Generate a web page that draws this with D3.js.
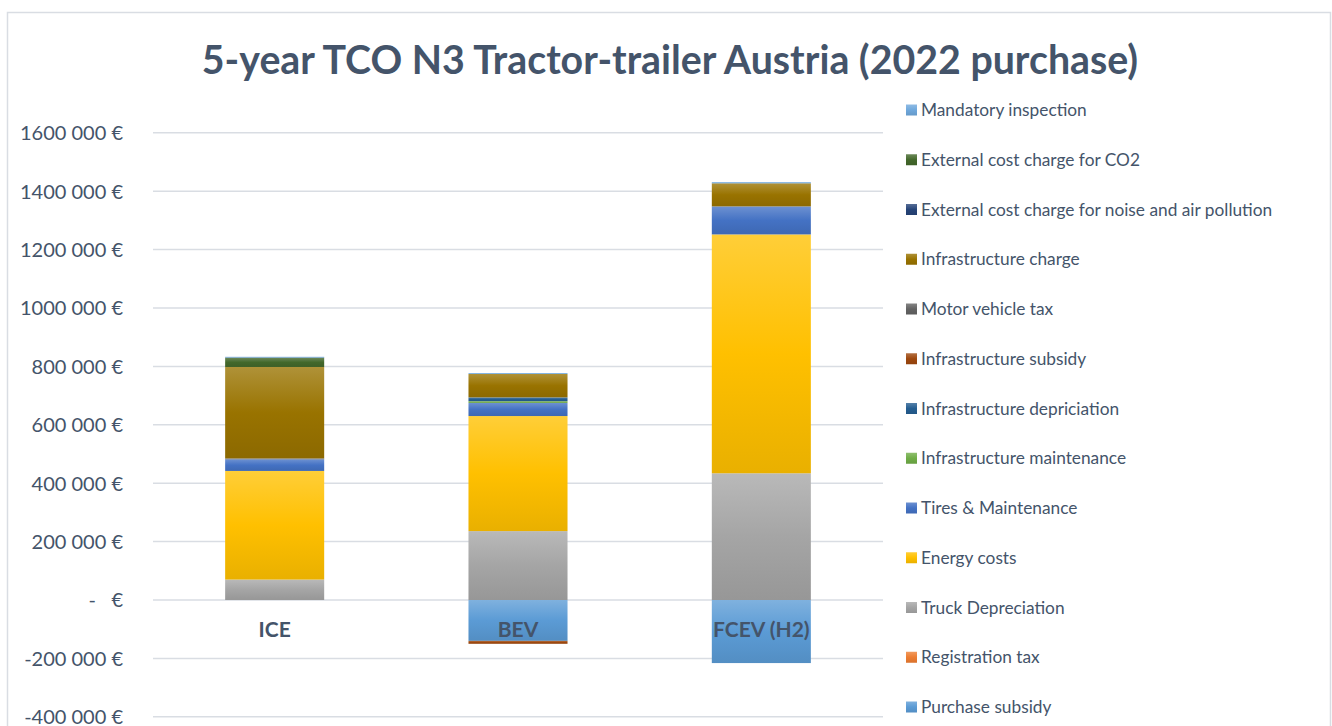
<!DOCTYPE html>
<html>
<head>
<meta charset="utf-8">
<script src="https://cdn.jsdelivr.net/npm/d3@7"></script>
<style>
  html, body { margin: 0; padding: 0; background: #ffffff; }
  svg { display: block; }
  text { font-family: Lato, "Open Sans", sans-serif; white-space: pre; }
</style>
</head>
<body>
<svg id="chart" width="1332" height="726"></svg>
<script>
// ---------------- DATA ----------------
const title = "5-year TCO N3 Tractor-trailer Austria (2022 purchase)";
const categories = ["ICE", "BEV", "FCEV (H2)"];

// stacking order from the bottom (legend shows the reverse order)
const seriesNames = [
  "Purchase subsidy",
  "Registration tax",
  "Truck Depreciation",
  "Energy costs",
  "Tires & Maintenance",
  "Infrastructure maintenance",
  "Infrastructure depriciation",
  "Infrastructure subsidy",
  "Motor vehicle tax",
  "Infrastructure charge",
  "External cost charge for noise and air pollution",
  "External cost charge for CO2",
  "Mandatory inspection"
];
const seriesColors = [
  "#5b9bd5", "#ed7d31", "#a5a5a5", "#ffc000", "#4472c4", "#70ad47",
  "#255e91", "#9e480e", "#636363", "#997300", "#264478", "#43682b", "#6fa8dc"
];

// values per category: ICE, BEV, FCEV (H2)
const purchaseSubsidy     = [0, -140000, -216000];
const registrationTax     = [0, 0, 0];
const truckDepreciation   = [70000, 236000, 434000];
const energyCosts         = [372000, 394000, 818000];
const tiresMaintenance    = [40000, 45000, 96000];
const infraMaintenance    = [0, 6000, 0];
const infraDepreciation   = [0, 13000, 0];
const infraSubsidy        = [0, -10000, 0];
const motorVehicleTax     = [3000, 0, 0];
const infraCharge         = [313000, 80000, 79000];
const extNoiseAir         = [0, 0, 0];
const extCO2              = [32000, 0, 0];
const mandatoryInspection = [3000, 3000, 4000];

const seriesValues = [
  purchaseSubsidy, registrationTax, truckDepreciation, energyCosts,
  tiresMaintenance, infraMaintenance, infraDepreciation, infraSubsidy,
  motorVehicleTax, infraCharge, extNoiseAir, extCO2, mandatoryInspection
];

const yTicks = [-400000, -200000, 0, 200000, 400000, 600000, 800000, 1000000, 1200000, 1400000, 1600000];
const yTickLabels = ["-400 000 €", "-200 000 €", "-   €", "200 000 €", "400 000 €", "600 000 €",
                     "800 000 €", "1000 000 €", "1200 000 €", "1400 000 €", "1600 000 €"];

// ---------------- CHART ----------------
const textColor = "#44546a";
const gridColor = "#d9dde3";
const svg = d3.select("#chart");

// outer chart border
svg.append("rect")
  .attr("x", 7.5).attr("y", 12.5)
  .attr("width", 1323).attr("height", 730)
  .attr("fill", "#ffffff")
  .attr("stroke", "#d9dde3").attr("stroke-width", 1.5);

// table for stacking
const table = categories.map((c, i) => {
  const row = { category: c };
  seriesNames.forEach((s, j) => { row[s] = seriesValues[j][i]; });
  return row;
});
const stack = d3.stack().keys(seriesNames).offset(d3.stackOffsetDiverging);
const stacked = stack(table);

const x = d3.scaleBand()
  .domain(categories)
  .range([153, 883])
  .paddingInner(0.593)
  .paddingOuter(0.2965);

const y = d3.scaleLinear()
  .domain([-400000, 1600000])
  .range([716.8, 132.8]);

// gradients
const defs = svg.append("defs");
seriesColors.forEach((col, i) => {
  const g = defs.append("linearGradient")
    .attr("id", "grad" + i)
    .attr("x1", 0).attr("y1", 0).attr("x2", 0).attr("y2", 1);
  g.append("stop").attr("offset", "0%").attr("stop-color", d3.interpolateRgb(col, "#ffffff")(0.22));
  g.append("stop").attr("offset", "50%").attr("stop-color", col);
  g.append("stop").attr("offset", "100%").attr("stop-color", d3.color(col).darker(0.25));
});

// gridlines
svg.append("g")
  .selectAll("line")
  .data(yTicks)
  .join("line")
  .attr("x1", 153).attr("x2", 883)
  .attr("y1", d => y(d)).attr("y2", d => y(d))
  .attr("stroke", gridColor).attr("stroke-width", 1.5);

// y axis labels
const yAxis = d3.axisLeft(y)
  .tickValues(yTicks)
  .tickFormat((d, i) => yTickLabels[i])
  .tickSize(0)
  .tickPadding(0);
const yG = svg.append("g").attr("transform", "translate(123,0)").call(yAxis);
yG.select(".domain").remove();
yG.selectAll("text")
  .attr("fill", textColor)
  .attr("font-size", "20px")
  .attr("font-family", "Lato, 'Open Sans', sans-serif")
  .attr("dy", "0.34em")
  .style("white-space", "pre");

// bars
svg.append("g")
  .selectAll("g")
  .data(stacked)
  .join("g")
  .attr("fill", (d, i) => `url(#grad${i})`)
  .selectAll("rect")
  .data(d => d.map(p => ({ p, cat: p.data.category })))
  .join("rect")
  .attr("x", d => x(d.cat))
  .attr("width", x.bandwidth())
  .attr("y", d => y(Math.max(d.p[0], d.p[1])))
  .attr("height", d => Math.abs(y(d.p[0]) - y(d.p[1])));

// category labels
const xAxis = d3.axisBottom(x).tickSize(0).tickPadding(0);
const xG = svg.append("g").attr("transform", `translate(0,${y(0) + 24})`).call(xAxis);
xG.select(".domain").remove();
xG.selectAll("text")
  .attr("fill", textColor)
  .attr("font-size", "21px")
  .attr("font-weight", "bold")
  .attr("font-family", "Lato, 'Open Sans', sans-serif")
  .attr("dy", "0.62em");

// title
svg.append("text")
  .attr("x", 670).attr("y", 74)
  .attr("text-anchor", "middle")
  .attr("fill", textColor)
  .attr("font-size", "39.3px")
  .attr("font-weight", "bold")
  .text(title);

// legend
const legendOrder = seriesNames.map((s, i) => i).reverse();
const legend = svg.append("g");
const lg = legend.selectAll("g")
  .data(legendOrder)
  .join("g")
  .attr("transform", (d, k) => `translate(906, ${110 + k * 49.75})`);
lg.append("rect")
  .attr("x", 0).attr("y", -5.5)
  .attr("width", 11).attr("height", 11)
  .attr("fill", d => `url(#grad${d})`);
lg.append("text")
  .attr("x", 15).attr("y", 0)
  .attr("dy", "0.35em")
  .attr("fill", textColor)
  .attr("font-size", "17.3px")
  .text(d => seriesNames[d]);
</script>
</body>
</html>
